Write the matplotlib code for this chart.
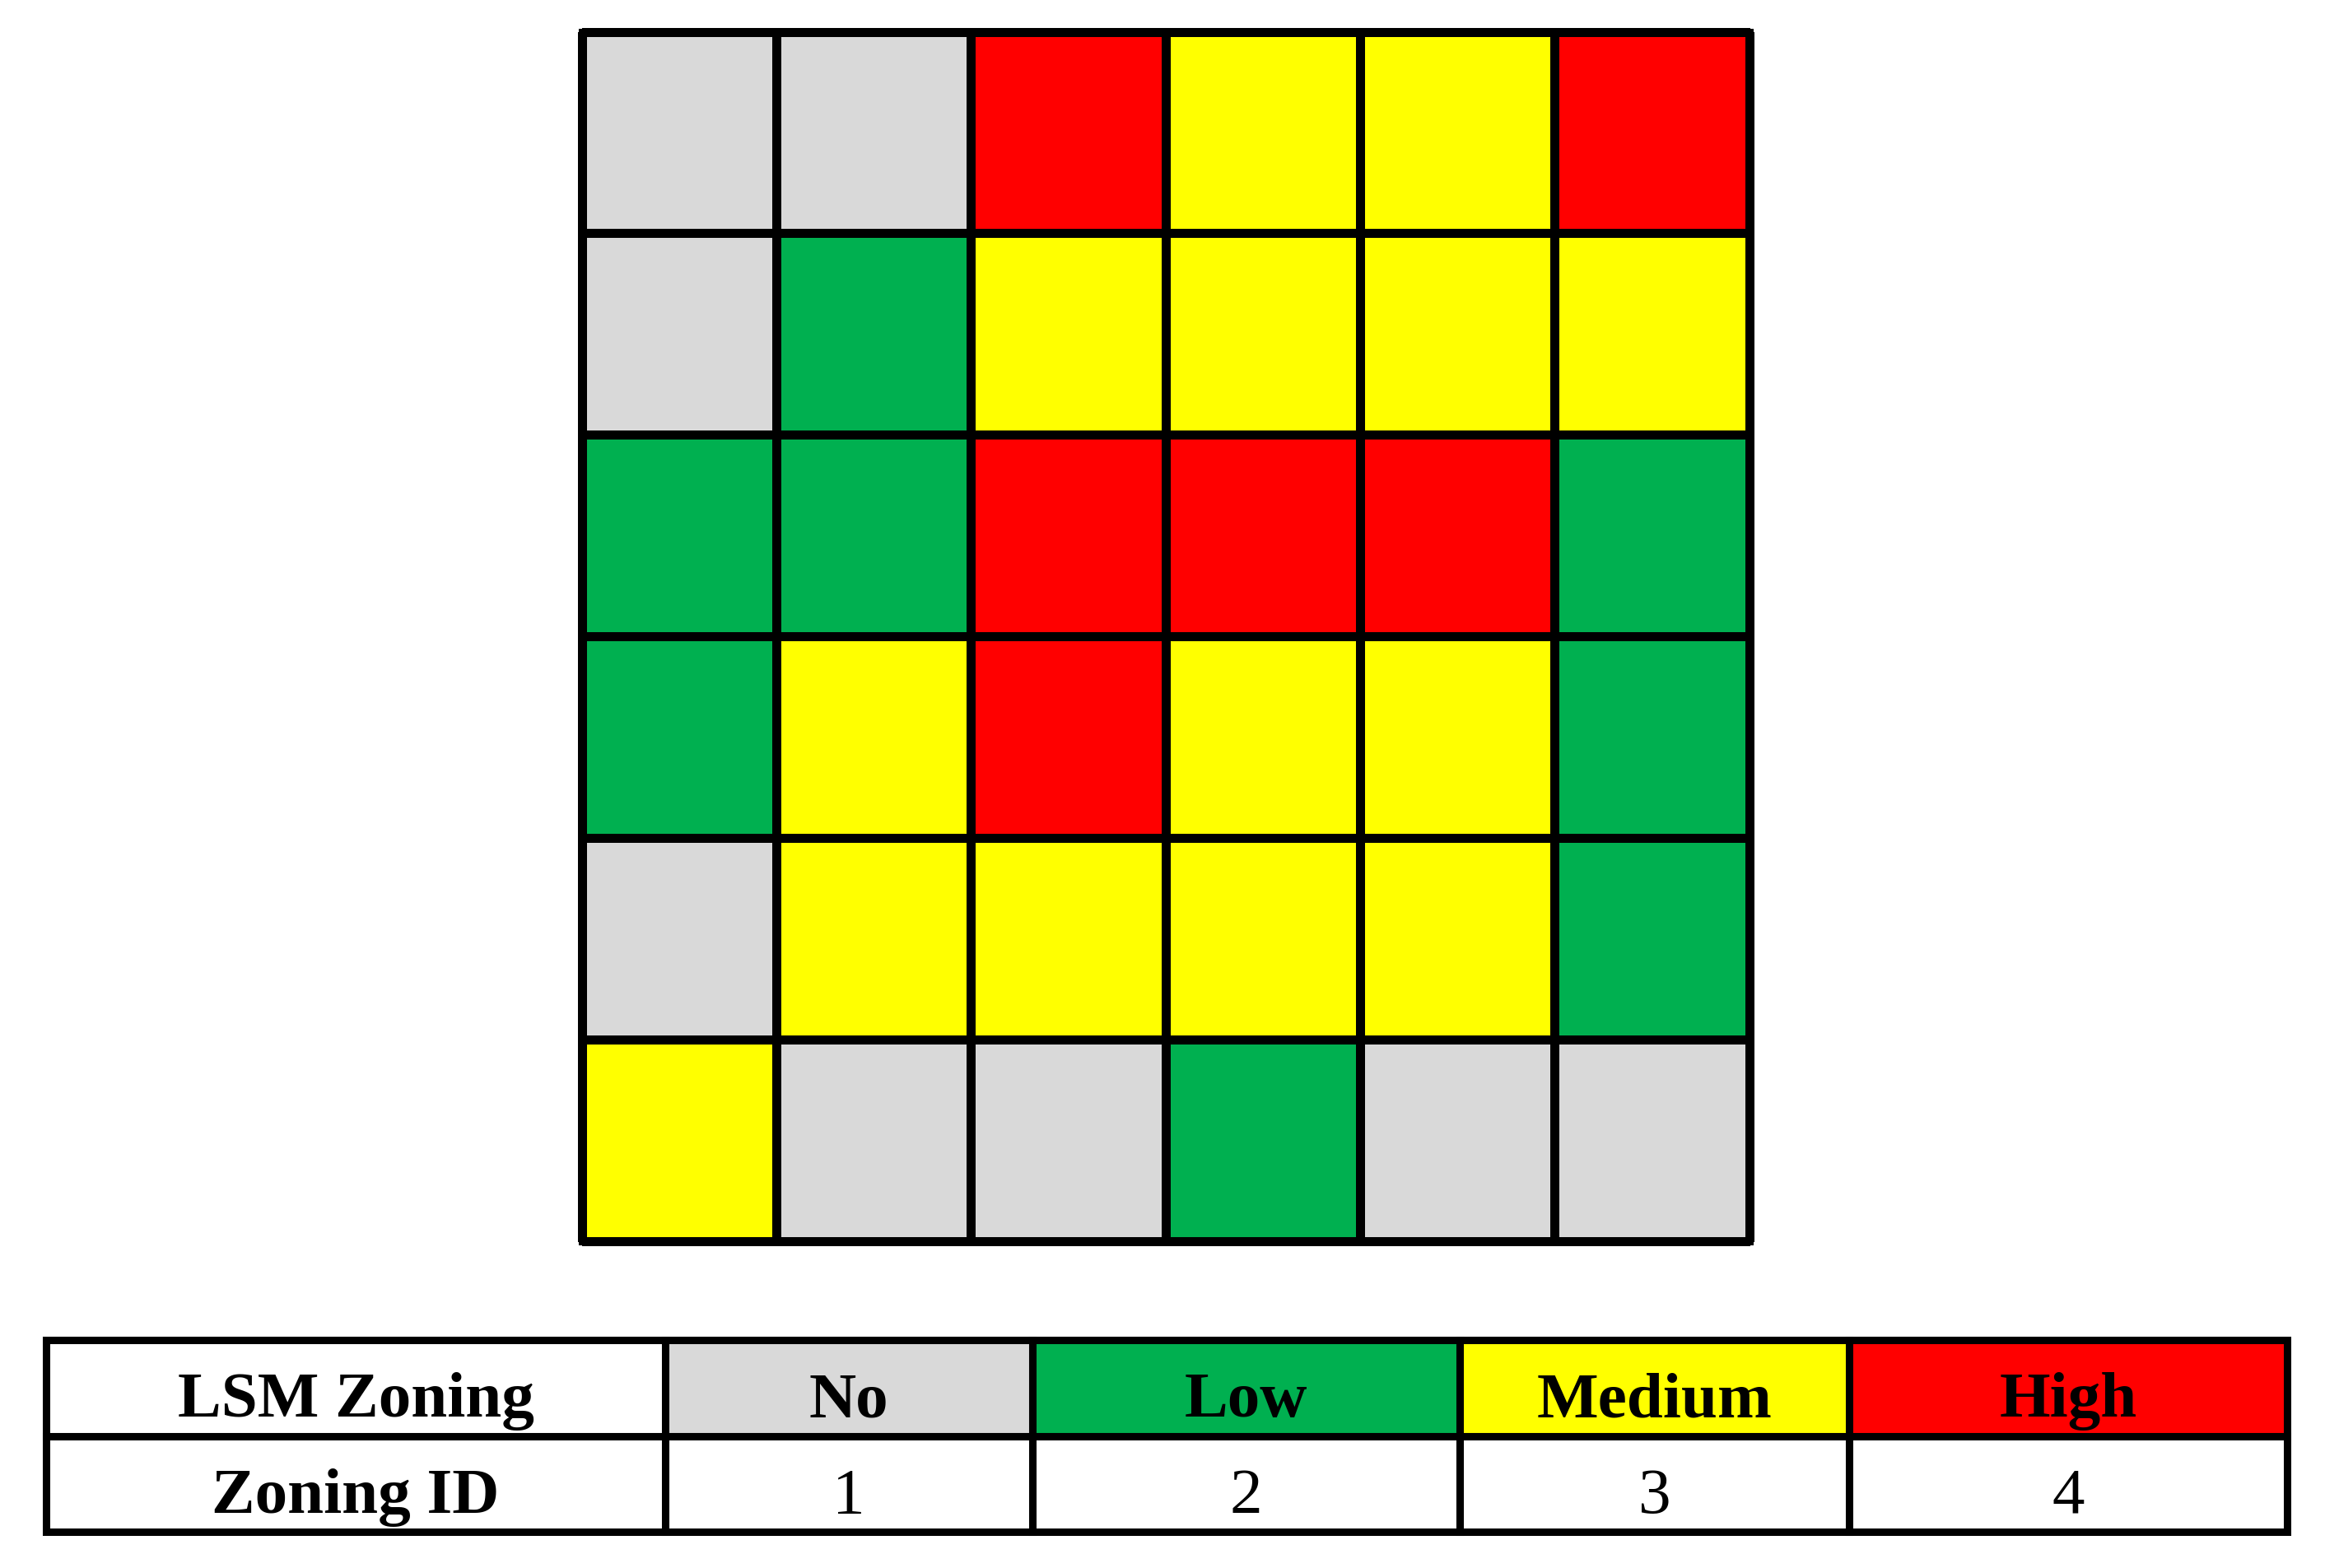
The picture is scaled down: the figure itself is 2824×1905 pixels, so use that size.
import numpy as np
import matplotlib
matplotlib.use("Agg")
import matplotlib.pyplot as plt
from matplotlib.colors import ListedColormap, BoundaryNorm
from matplotlib.patches import Rectangle
from matplotlib.transforms import Affine2D

# zoning classes, ID 1..4
zone_names = ["No", "Low", "Medium", "High"]
zone_ids = [1, 2, 3, 4]
zone_colors = ["#D9D9D9", "#00B050", "#FFFF00", "#FF0000"]

# 6x6 cell map, top row first
zoning_grid = [
    [1, 1, 4, 3, 3, 4],
    [1, 2, 3, 3, 3, 3],
    [2, 2, 4, 4, 4, 2],
    [2, 3, 4, 3, 3, 2],
    [1, 3, 3, 3, 3, 2],
    [3, 1, 1, 2, 1, 1],
]

row_labels = ["LSM Zoning", "Zoning ID"]

W, H = 2824, 1906
fig = plt.figure(figsize=(W / 100, H / 100), dpi=100)
lw = 6.5

# grid map
ax = fig.add_axes([706.5 / W, 1 - 1508.5 / H, 1418 / W, 1469 / H])
cmap = ListedColormap(zone_colors)
norm = BoundaryNorm([0.5, 1.5, 2.5, 3.5, 4.5], cmap.N)
data = np.array(zoning_grid)
mesh = ax.pcolormesh(data, cmap=cmap, norm=norm, edgecolors="black", linewidth=lw)
mesh.set_clip_on(False)
nr, nc = data.shape
ax.add_patch(Rectangle((0, 0), nc, nr, fill=False, edgecolor="black", lw=lw,
                       joinstyle="miter", clip_on=False))
ax.set_xlim(0, nc)
ax.set_ylim(nr, 0)
ax.axis("off")

# legend table
ax_t = fig.add_axes([0, 0, 1, 1])
ax_t.axis("off")
cell_text = [[row_labels[0]] + zone_names,
             [row_labels[1]] + [str(i) for i in zone_ids]]
cell_colours = [["white"] + zone_colors,
                ["white"] * (len(zone_ids) + 1)]
col_w = [752, 446, 519, 473, 532]
tab = ax_t.table(cellText=cell_text, cellColours=cell_colours,
                 colWidths=[c / sum(col_w) for c in col_w],
                 cellLoc="center",
                 bbox=[56 / W, 1 - 1862 / H, 2722 / W, 233 / H])
tab.auto_set_font_size(False)
for (r, c), cell in tab.get_celld().items():
    cell.set_linewidth(lw)
    cell.set_edgecolor("black")
    t = cell.get_text()
    t.set_fontfamily("Liberation Serif")
    t.set_fontsize(57)
    t.set_va("center_baseline")
    t.set_transform(Affine2D().translate(0, -7))
    if r == 0 or c == 0:
        t.set_fontweight("bold")

fig.savefig("out.png", dpi=100, facecolor="white")
